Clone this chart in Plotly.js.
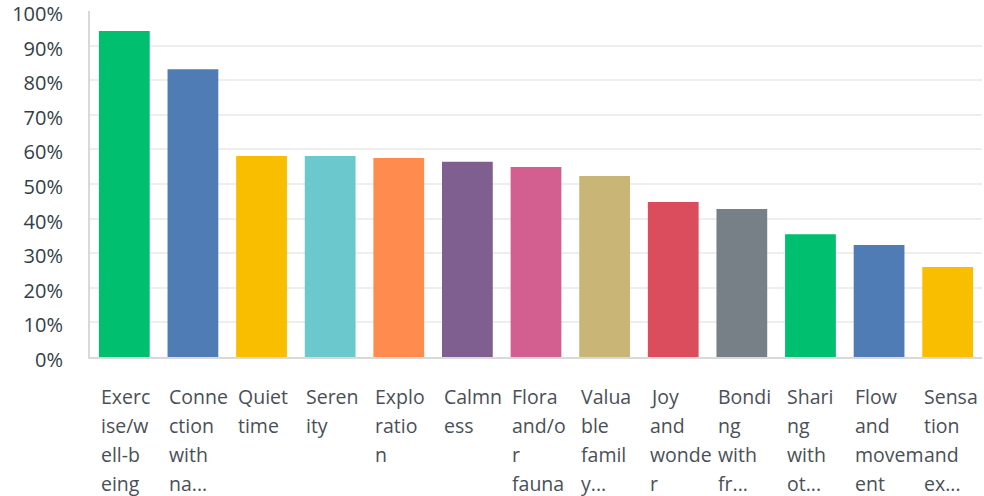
<!DOCTYPE html>
<html>
<head>
<meta charset="utf-8">
<script src="https://cdn.plot.ly/plotly-3.0.1.min.js"></script>
<style>
body { margin: 0; background: #fff; }
#chart { width: 984px; height: 496px; }
</style>
</head>
<body>
<div id="chart"></div>
<script>
// wrapped labels as shown under each bar
var labels = [
	'Exerc|ise/w|ell-b|eing',
	'Conne|ction|with|na...',
	'Quiet|time',
	'Seren|ity',
	'Explo|ratio|n',
	'Calmn|ess',
	'Flora|and/o|r|fauna',
	'Valua|ble|famil|y...',
	'Joy|and|wonde|r',
	'Bondi|ng|with|fr...',
	'Shari|ng|with|ot...',
	'Flow|and|movem|ent',
	'Sensa|tion|and|ex...'
];
var values = [94.2, 83.2, 58.1, 58.1, 57.5, 56.4, 54.9, 52.3, 44.8, 42.8, 35.5, 32.4, 26.0];
var colors = ['#00BF6F', '#507CB6', '#F9BE00', '#6BC8CD', '#FF8B4F', '#7F5F90', '#D25F90',
	'#C9B677', '#DB4D5C', '#768086', '#00BF6F', '#507CB6', '#F9BE00'];
var yTicks = [0, 10, 20, 30, 40, 50, 60, 70, 80, 90, 100];

var xs = [];
for (var i = 0; i < values.length; i++) {
	xs.push(i);
}

var trace = {
	x: xs,
	y: values,
	type: 'bar',
	marker: { color: colors },
	hoverinfo: 'none'
};

var annotations = [];
for (var i = 0; i < labels.length; i++) {
	var lines = labels[i].split('|');
	for (var k = 0; k < lines.length; k++) {
		annotations.push({
			xref: 'x', yref: 'paper',
			x: i - 0.375, y: 0,
			xanchor: 'left', yanchor: 'top',
			yshift: -(24 + 29 * k),
			text: lines[k],
			showarrow: false,
			align: 'left',
			font: { family: 'Open Sans, sans-serif', size: 19.5, color: '#4a4f57' }
		});
	}
}

var layout = {
	width: 984,
	height: 496,
	margin: { l: 90, r: 2, t: 11, b: 139 },
	bargap: 0.26,
	showlegend: false,
	plot_bgcolor: '#fff',
	paper_bgcolor: '#fff',
	xaxis: {
		range: [-0.5, values.length - 0.5],
		showticklabels: false,
		showgrid: false,
		zeroline: false,
		showline: true,
		linecolor: '#d9d9d9',
		linewidth: 2,
		fixedrange: true
	},
	yaxis: {
		range: [0, 100],
		tickvals: yTicks,
		ticktext: yTicks.map(function (t) { return t + '%'; }),
		gridcolor: '#eeeeee',
		gridwidth: 2,
		zeroline: false,
		showline: true,
		linecolor: '#d9d9d9',
		linewidth: 2,
		ticklabelstandoff: 21,
		ticklabelshift: 3,
		ticklabeloverflow: 'allow',
		tickfont: { family: 'Open Sans, sans-serif', size: 20, color: '#333e48' },
		fixedrange: true
	},
	annotations: annotations
};

Plotly.newPlot('chart', [trace], layout, { displayModeBar: false, staticPlot: true });
</script>
</body>
</html>
